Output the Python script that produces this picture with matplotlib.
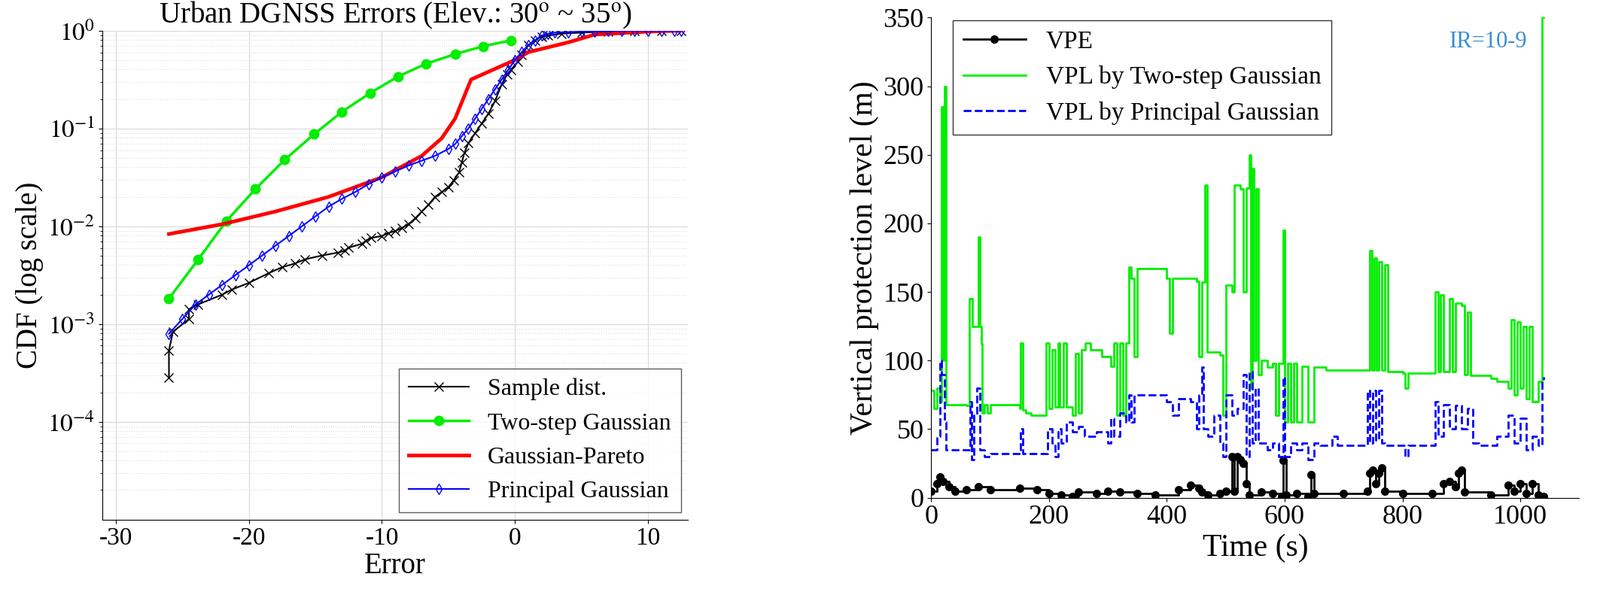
import numpy as np
import matplotlib
matplotlib.use("Agg")
import matplotlib.pyplot as plt
from matplotlib.ticker import LogLocator, NullFormatter

plt.rcParams['font.family'] = ['Liberation Serif', 'DejaVu Serif']
plt.rcParams['mathtext.fontset'] = 'stix'
plt.rcParams['axes.unicode_minus'] = False

## left panel: CDF in log10 units
sample_x = [-26, -26, -25.7, -24.5, -24.5, -23.8, -22, -21.3, -20, -18.5, -17.5, -16.5, -15.8, -14.5,
            -13.3, -12.8, -12.5, -11.5, -11.2, -10.8, -10, -9.5, -9, -8.5, -8, -7.5, -7, -6.5, -6, -5.5,
            -5, -4.6, -4.2, -4.0, -3.8, -3.5, -3.0, -2.5, -2, -1.5, -1, -0.6, -0.3, 0.2, 0.5, 1, 1.5,
            2, 2.5, 3.5, 5, 7, 9, 11, 12.5]
sample_lc = [-3.55, -3.27, -3.08, -2.95, -2.85, -2.8, -2.7, -2.65, -2.58, -2.48, -2.42, -2.38, -2.34, -2.3,
             -2.27, -2.25, -2.22, -2.18, -2.15, -2.12, -2.1, -2.07, -2.05, -2.02, -1.98, -1.92, -1.85, -1.78,
             -1.7, -1.65, -1.6, -1.53, -1.45, -1.35, -1.25, -1.15, -1.05, -0.95, -0.85, -0.72, -0.55, -0.45,
             -0.4, -0.32, -0.25, -0.15, -0.1, -0.06, -0.05, -0.03, -0.02, -0.01, -0.005, 0, 0]

twostep_x = [-26, -23.8, -21.7, -19.5, -17.3, -15.1, -13, -10.9, -8.8, -6.7, -4.5, -2.4, -0.3]
twostep_lc = [-2.74, -2.34, -1.95, -1.62, -1.32, -1.06, -0.83, -0.64, -0.47, -0.34, -0.24, -0.16, -0.10]

pareto_x = [-26, -22, -18, -14, -10, -7, -5.5, -4.5, -3.3, 0, 1, 4, 6, 10, 12.5]
pareto_lc = [-2.08, -1.98, -1.85, -1.7, -1.5, -1.28, -1.1, -0.9, -0.5, -0.3, -0.22, -0.12, -0.04, -0.01, 0]

princ_x = [-26, -25, -24, -23, -22, -21, -20, -19, -18, -17, -16, -15, -14, -13, -12, -11, -10, -9, -8,
           -7, -6, -5, -4.5, -4, -3.5, -3, -2.5, -2, -1.5, -1, -0.5, 0, 0.5, 1, 1.5, 2, 2.5, 3, 4, 5, 6,
           7, 8, 9, 10, 11, 12, 12.5]
princ_lc = [-3.1, -2.95, -2.8, -2.7, -2.6, -2.5, -2.4, -2.3, -2.2, -2.1, -2.0, -1.9, -1.8, -1.72, -1.65,
            -1.57, -1.5, -1.44, -1.38, -1.33, -1.28, -1.21, -1.16, -1.08, -1.0, -0.9, -0.8, -0.7, -0.6,
            -0.5, -0.4, -0.3, -0.22, -0.15, -0.1, -0.05, -0.03, -0.02, -0.015, -0.01, -0.01, -0.005, 0, 0,
            0, 0, 0, 0]

## right panel: time series
vpl_two_t = [0, 5, 10, 15, 18, 20, 22, 25, 60, 65, 70, 80, 82, 85, 87, 90, 95, 100, 150, 152, 155, 160, 170,
             190, 195, 200, 205, 210, 215, 218, 225, 230, 240, 245, 250, 255, 262, 270, 290, 305, 310, 315,
             320, 325, 330, 335, 340, 345, 350, 400, 405, 410, 450, 455, 460, 465, 468, 490, 495, 500, 510,
             515, 525, 530, 535, 540, 542, 545, 548, 552, 555, 560, 570, 580, 585, 590, 598, 600, 605, 610,
             615, 620, 630, 640, 650, 670, 740, 745, 748, 752, 756, 760, 765, 770, 775, 800, 805, 810, 850,
             855, 860, 865, 870, 880, 885, 890, 900, 905, 910, 915, 950, 960, 980, 985, 990, 995, 1000, 1005,
             1010, 1015, 1020, 1030, 1037, 1040]
vpl_two_v = [78, 65, 80, 70, 285, 100, 300, 68, 67, 145, 125, 190, 125, 112, 62, 68, 62, 68, 65, 113, 64, 62,
             60, 60, 113, 65, 108, 66, 113, 66, 113, 66, 60, 105, 62, 108, 113, 108, 103, 96, 113, 60, 113,
             60, 113, 168, 160, 103, 167, 160, 120, 160, 158, 103, 157, 228, 106, 104, 60, 155, 150, 228,
             225, 150, 226, 250, 80, 240, 100, 225, 90, 100, 95, 98, 60, 98, 195, 55, 98, 55, 98, 55, 96, 55,
             95, 93, 93, 180, 93, 175, 93, 172, 93, 170, 92, 91, 80, 91, 91, 150, 92, 148, 92, 145, 92, 142,
             140, 90, 135, 89, 87, 85, 80, 130, 75, 128, 80, 125, 72, 125, 70, 85, 350, 350]

vpl_pg_t = [0, 10, 15, 18, 22, 25, 65, 66, 68, 72, 78, 82, 90, 100, 150, 152, 155, 195, 198, 205, 210, 215,
            220, 230, 240, 250, 260, 280, 300, 305, 310, 320, 330, 335, 340, 345, 380, 400, 410, 420, 440,
            450, 455, 460, 462, 470, 480, 490, 495, 500, 510, 520, 530, 535, 540, 545, 550, 555, 570, 580,
            590, 598, 600, 610, 620, 630, 640, 650, 660, 680, 690, 720, 740, 745, 750, 755, 760, 765, 770,
            800, 805, 810, 850, 855, 860, 870, 880, 890, 900, 910, 920, 930, 950, 960, 980, 990, 1000, 1010,
            1020, 1030, 1037, 1040]
vpl_pg_v = [35, 45, 100, 90, 55, 35, 35, 70, 28, 60, 80, 35, 30, 32, 32, 50, 32, 32, 50, 40, 30, 50, 40, 55,
            48, 52, 45, 48, 40, 58, 45, 62, 55, 75, 55, 75, 75, 70, 60, 72, 70, 50, 75, 95, 50, 45, 60, 40,
            30, 75, 60, 65, 90, 30, 92, 40, 80, 40, 35, 40, 30, 88, 30, 40, 35, 40, 28, 40, 38, 45, 38, 38,
            78, 40, 78, 42, 78, 40, 38, 38, 30, 38, 38, 70, 45, 68, 50, 67, 50, 65, 40, 38, 38, 45, 60, 40,
            58, 35, 45, 38, 85, 88]

vpe_t = [0, 10, 15, 20, 30, 40, 60, 80, 100, 150, 180, 200, 220, 240, 250, 280, 300, 320, 350, 380, 420,
         440, 455, 460, 470, 490, 500, 510, 515, 520, 525, 530, 535, 540, 560, 580, 595, 598, 602, 620, 640,
         645, 650, 700, 740, 745, 750, 755, 760, 765, 770, 800, 850, 870, 880, 890, 895, 900, 905, 950, 980,
         990, 1000, 1010, 1020, 1030, 1040]
vpe_v = [5, 10, 15, 12, 8, 5, 6, 8, 6, 7, 6, 3, 2, 1, 4, 3, 5, 4, 3, 2, 6, 9, 7, 4, 2, 3, 5, 30, 5, 30, 28,
         25, 10, 2, 4, 3, 1, 27, 2, 3, 1, 17, 3, 3, 5, 18, 20, 10, 18, 22, 5, 3, 3, 10, 12, 8, 18, 20, 4, 2,
         9, 5, 10, 3, 10, 2, 1]

fig = plt.figure(figsize=(21.26, 7.83), dpi=100)

# left
ax1 = fig.add_axes([0.064, 0.118, 0.366, 0.83])
ax1.plot(sample_x, 10 ** np.array(sample_lc), 'k-x', ms=8, lw=1.5, label='Sample dist.')
ax1.plot(twostep_x, 10 ** np.array(twostep_lc), '-o', color='#00ee00', ms=9, lw=2.5,
         label='Two-step Gaussian')
ax1.plot(pareto_x, 10 ** np.array(pareto_lc), '-', color='red', lw=3.5, label='Gaussian-Pareto')
ax1.plot(princ_x, 10 ** np.array(princ_lc), '-d', color='blue', mfc='none', ms=7, lw=1.5,
         label='Principal Gaussian')
ax1.set_yscale('log')
ax1.set_ylim(1e-5, 1)
ax1.set_xlim(-31, 13)
ax1.set_xticks([-30, -20, -10, 0, 10])
ax1.set_yticks([1e-4, 1e-3, 1e-2, 1e-1, 1])
ax1.set_yticklabels(['$10^{-4}$', '$10^{-3}$', '$10^{-2}$', '$10^{-1}$', '$10^{0}$'])
ax1.yaxis.set_minor_locator(LogLocator(base=10, subs=np.arange(2, 10), numticks=20))
ax1.yaxis.set_minor_formatter(NullFormatter())
ax1.grid(True, which='major', color='#dddddd', lw=1)
ax1.grid(True, which='minor', axis='y', color='#dddddd', ls=':', lw=0.8)
ax1.spines['top'].set_visible(False)
ax1.spines['right'].set_visible(False)
ax1.tick_params(labelsize=24)
ax1.set_xlabel('Error', fontsize=28, labelpad=2)
ax1.set_ylabel('CDF (log scale)', fontsize=28)
ax1.set_title('Urban DGNSS Errors (Elev.: 30$^{\\rm o}$ ~ 35$^{\\rm o}$)', fontsize=28, pad=2)
ax1.legend(loc='lower right', fontsize=23, frameon=True, fancybox=False, edgecolor='#333333',
           handlelength=2.5, borderaxespad=0.3)

# right
ax2 = fig.add_axes([0.582, 0.155, 0.405, 0.815])
ax2.plot(vpe_t, vpe_v, 'k-o', ms=7, lw=2, drawstyle='steps-post', label='VPE')
ax2.plot(vpl_two_t, vpl_two_v, '-', color='#00ee00', lw=2, drawstyle='steps-post',
         label='VPL by Two-step Gaussian')
ax2.plot(vpl_pg_t, vpl_pg_v, '--', color='blue', lw=2, drawstyle='steps-post',
         label='VPL by Principal Gaussian')
ax2.set_xlim(0, 1100)
ax2.set_ylim(0, 350)
ax2.set_xticks([0, 200, 400, 600, 800, 1000])
ax2.set_yticks(range(0, 351, 50))
ax2.spines['top'].set_visible(False)
ax2.spines['right'].set_visible(False)
ax2.tick_params(labelsize=26)
ax2.set_xlabel('Time (s)', fontsize=30)
ax2.set_ylabel('Vertical protection level (m)', fontsize=30)
ax2.text(0.86, 0.95, 'IR=10-9', transform=ax2.transAxes, color='#3a8ed0', fontsize=22,
         ha='center', va='center')
ax2.legend(loc='upper left', fontsize=24, frameon=True, fancybox=False, edgecolor='black',
           bbox_to_anchor=(0.03, 1.0), handlelength=2.5, borderaxespad=0.1)

fig.savefig('out.png', dpi=100)
